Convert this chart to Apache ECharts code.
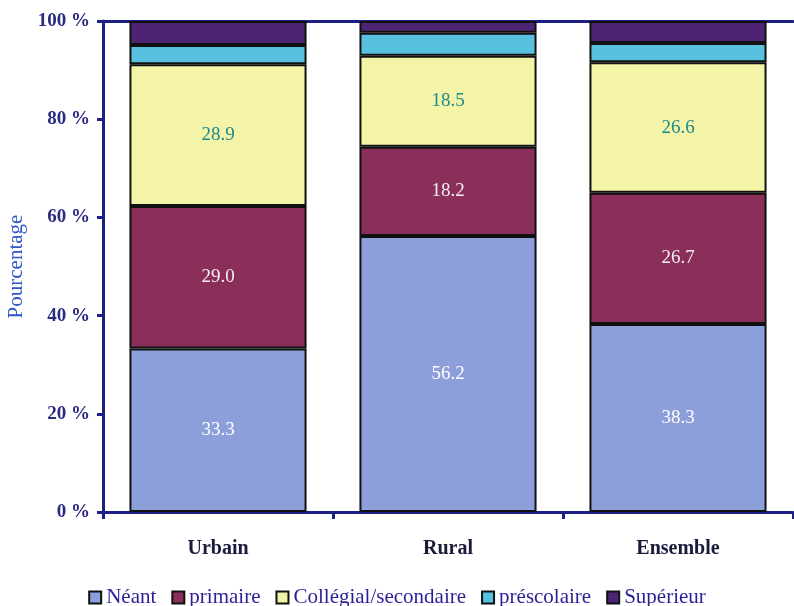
<!DOCTYPE html>
<html>
<head>
<meta charset="utf-8">
<script src="https://cdn.jsdelivr.net/npm/echarts@6/dist/echarts.min.js"></script>
<style>
html,body{margin:0;padding:0;background:#fff;}
#chart{width:794px;height:606px;}
</style>
</head>
<body>
<div id="chart"></div>
<script>
var categories = ['Urbain', 'Rural', 'Ensemble'];
var neant = [33.3, 56.2, 38.3];
var primaire = [29.0, 18.2, 26.7];
var collegial = [28.9, 18.5, 26.6];
var prescolaire = [3.9, 4.7, 3.9];
var superieur = [4.9, 2.4, 4.5];
var yTicks = [0, 20, 40, 60, 80, 100];

var serif = '"Liberation Serif", "DejaVu Serif", serif';
var navy = '#1c1f86';

function seriesDef(name, data, color, labelColor) {
  return {
    name: name,
    type: 'bar',
    stack: 'total',
    data: data,
    barWidth: '77%',
    itemStyle: { color: color, borderColor: '#111', borderWidth: 2 },
    label: labelColor ? {
      show: true,
      position: 'inside',
      color: labelColor,
      fontFamily: serif,
      fontSize: 19,
      formatter: function (p) { return p.value.toFixed(1); }
    } : { show: false },
    emphasis: { disabled: true }
  };
}

var chart = echarts.init(document.getElementById('chart'));
chart.setOption({
  animation: false,
  backgroundColor: '#fff',
  grid: { left: 103, right: 1, top: 21, bottom: 94, containLabel: false, outerBoundsMode: 'none' },
  legend: {
    top: 582,
    left: 'center',
    itemWidth: 12,
    itemHeight: 12,
    itemGap: 15,
    icon: 'rect',
    itemStyle: { borderColor: '#111', borderWidth: 2 },
    textStyle: { fontFamily: serif, fontSize: 21, color: '#2a1f96', padding: [0, 0, 0, 0] },
    data: ['Néant', 'primaire', 'Collégial/secondaire', 'préscolaire', 'Supérieur']
  },
  xAxis: [{
    type: 'category',
    data: categories,
    position: 'bottom',
    axisLine: { lineStyle: { color: navy, width: 3 } },
    axisTick: { show: true, length: 7, lineStyle: { color: navy, width: 3 } },
    axisLabel: { fontFamily: serif, fontWeight: 'bold', fontSize: 20, color: '#1a1a3a', margin: 27 }
  }, {
    type: 'category',
    data: categories,
    position: 'top',
    axisLine: { lineStyle: { color: navy, width: 3 } },
    axisTick: { show: false },
    axisLabel: { show: false }
  }],
  yAxis: {
    type: 'value',
    min: 0,
    max: 100,
    interval: 20,
    name: 'Pourcentage',
    nameLocation: 'middle',
    nameGap: 74,
    nameTextStyle: { fontFamily: serif, fontSize: 21, color: '#2f55c8' },
    axisLine: { show: true, lineStyle: { color: navy, width: 3 } },
    axisTick: { show: true, length: 6, lineStyle: { color: navy, width: 3 } },
    splitLine: { show: false },
    axisLabel: {
      fontFamily: serif, fontWeight: 'bold', fontSize: 19, color: '#2a2a80', margin: 13,
      formatter: function (v) { return yTicks.indexOf(v) >= 0 ? v + ' %' : ''; }
    }
  },
  series: [
    seriesDef('Néant', neant, '#8c9fdb', '#ffffff'),
    seriesDef('primaire', primaire, '#8a2e5a', '#f4eef2'),
    seriesDef('Collégial/secondaire', collegial, '#f4f4a8', '#1f8a8a'),
    seriesDef('préscolaire', prescolaire, '#58c2de', null),
    seriesDef('Supérieur', superieur, '#4c2472', null)
  ]
});
</script>
</body>
</html>
